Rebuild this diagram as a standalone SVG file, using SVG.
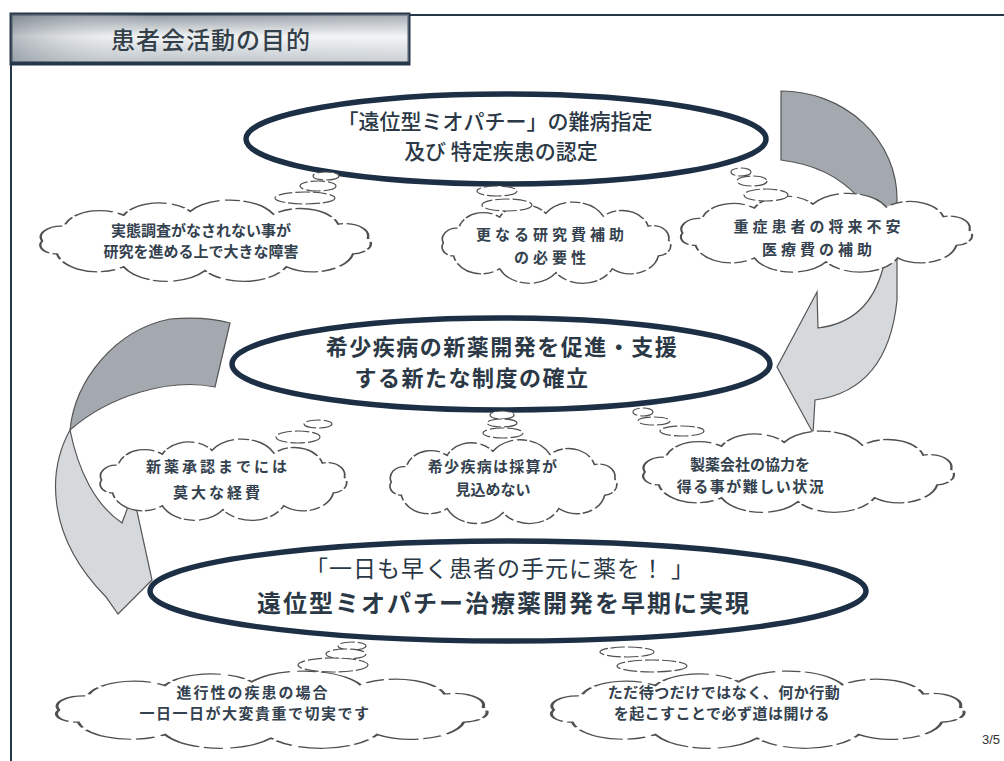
<svg xmlns="http://www.w3.org/2000/svg" xmlns:xlink="http://www.w3.org/1999/xlink" width="1004" height="761" viewBox="0 0 1004 761">
<defs>
<style>
.cl{fill:#fff;stroke:#505050;stroke-width:1.3;stroke-dasharray:22 3 8 2;vector-effect:non-scaling-stroke}
.bub{fill:#fff;stroke:#505050;stroke-width:1.2;stroke-dasharray:14 3}
.ell{fill:#fff;stroke:#1c2f45;stroke-width:5.5}
.ct{font-family:"Noto Sans CJK JP",sans-serif;font-size:15px;font-weight:bold;fill:#34414e;text-anchor:middle}
.et{font-family:"Noto Sans CJK JP",sans-serif;fill:#2b3846;text-anchor:middle}
.dark{fill:#a3a9ae;stroke:#555;stroke-width:1.2}
.light{fill:#d6d9dc;stroke:#555;stroke-width:1.2}
.frame{stroke:#26374a;stroke-width:2;fill:none}
</style>
<linearGradient id="tg" x1="0" y1="0" x2="0" y2="1">
<stop offset="0" stop-color="#8e979f"/>
<stop offset="0.45" stop-color="#f1f3f4"/>
<stop offset="1" stop-color="#b9c0c6"/>
</linearGradient>
<linearGradient id="th" x1="0" y1="0" x2="1" y2="0">
<stop offset="0" stop-color="#6c7680" stop-opacity="0.45"/>
<stop offset="0.35" stop-color="#ffffff" stop-opacity="0"/>
<stop offset="1" stop-color="#ffffff" stop-opacity="0.2"/>
</linearGradient>
<path id="cloud" d="M -88 0 A 11.1 11.1 0 0 1 -76 -15 A 19.6 19.6 0 0 1 -44 -26 A 21 21 0 0 1 -8 -30 A 26.2 26.2 0 0 1 37 -27 A 21.1 21.1 0 0 1 72 -17 A 12.4 12.4 0 0 1 88 -3 A 10.4 10.4 0 0 1 80 13 A 22.2 22.2 0 0 1 44 26 A 25.6 25.6 0 0 1 0 30 A 25.6 25.6 0 0 1 -44 26 A 22.2 22.2 0 0 1 -80 13 A 8.9 8.9 0 0 1 -88 0 Z"/>
</defs>
<rect width="1004" height="761" fill="#fff"/>

<g id="frame">
<line class="frame" x1="410" y1="15" x2="1004" y2="15"/>
<line class="frame" x1="11" y1="64" x2="11" y2="761"/>
</g>

<g id="title">
<rect x="11" y="14" width="398" height="50" fill="url(#tg)" stroke="#26374a" stroke-width="3"/>
<rect x="11" y="14" width="398" height="50" fill="url(#th)"/>
<line x1="11" y1="63" x2="409" y2="63" stroke="#26374a" stroke-width="3"/>
<text x="211" y="49" style="font-family:'Noto Sans CJK JP',sans-serif;font-size:24px;font-weight:500;letter-spacing:1px;fill:#333f49;text-anchor:middle">患者会活動の目的</text>
</g>

<g id="connectors">
<path class="dark" d="M 781 91 A 116 108 0 0 1 897 199 L 897 240 L 858 240 L 858 197 Q 830 166 781 160 Z"/>
<path class="light" d="M 883 240 L 897 240 L 897 300 Q 888 390 815 400 L 813 433 L 777 367 L 817 292 L 818 328 Q 869 322 883 268 Z"/>
<path class="dark" d="M 230 323 L 215 387 C 170 378 110 395 70 430 C 75 380 115 330 170 319 Q 205 316 230 323 Z"/>
<path class="light" d="M 70 430 C 48 470 45 535 106 597 L 118 614 L 152 580 L 133 493 L 122 523 C 95 505 78 470 70 430 Z"/>
</g>

<g id="goal1">
<ellipse class="ell" cx="506" cy="139" rx="260" ry="45"/>
<text class="et" x="495" y="129" style="font-size:21px;font-weight:500">「遠位型ミオパチー」の難病指定</text>
<text class="et" x="501" y="159" style="font-size:21px;font-weight:500">及び 特定疾患の認定</text>
</g>

<g id="goal2">
<ellipse class="ell" cx="501" cy="364" rx="269" ry="46"/>
<text class="et" x="502" y="355" style="font-size:22px;font-weight:bold;letter-spacing:1.5px">希少疾病の新薬開発を促進・支援</text>
<text class="et" x="472" y="386" style="font-size:22px;font-weight:bold;letter-spacing:1.5px">する新たな制度の確立</text>
</g>

<g id="goal3">
<ellipse class="ell" cx="508" cy="591" rx="358" ry="50"/>
<text class="et" x="500" y="577" style="font-size:23px;letter-spacing:1px">「一日も早く患者の手元に薬を！ 」</text>
<text class="et" x="504" y="612" style="font-size:24px;font-weight:bold;letter-spacing:2px">遠位型ミオパチー治療薬開発を早期に実現</text>
</g>

<g id="reason1a">
<ellipse class="bub" cx="326" cy="176" rx="13" ry="4"/>
<ellipse class="bub" cx="318" cy="186" rx="18" ry="5"/>
<use href="#cloud" class="cl" transform="translate(205,241) scale(1.85,0.99)"/>
<ellipse class="bub" cx="305" cy="198" rx="30" ry="6"/>
<text class="ct" x="201" y="236">実態調査がなされない事が</text>
<text class="ct" x="201" y="257">研究を進める上で大きな障害</text>
</g>

<g id="reason1b">
<ellipse class="bub" cx="497" cy="191" rx="20" ry="5"/>
<use href="#cloud" class="cl" transform="translate(556,243) scale(1.28,0.99)"/>
<ellipse class="bub" cx="507" cy="205" rx="25" ry="6"/>
<text class="ct" x="552" y="240" style="letter-spacing:4px">更なる研究費補助</text>
<text class="ct" x="552" y="263" style="letter-spacing:4px">の必要性</text>
</g>

<g id="reason1c">
<ellipse class="bub" cx="741" cy="172" rx="10" ry="4"/>
<ellipse class="bub" cx="752" cy="181" rx="15" ry="5"/>
<use href="#cloud" class="cl" transform="translate(826,233) scale(1.63,0.96)"/>
<ellipse class="bub" cx="766" cy="195" rx="22" ry="6"/>
<text class="ct" x="819" y="232" style="letter-spacing:4px">重症患者の将来不安</text>
<text class="ct" x="819" y="255" style="letter-spacing:4px">医療費の補助</text>
</g>

<g id="reason2a">
<ellipse class="bub" cx="318" cy="424" rx="14" ry="4"/>
<ellipse class="bub" cx="298" cy="437" rx="22" ry="6"/>
<use href="#cloud" class="cl" transform="translate(223,480) scale(1.38,0.99)"/>
<text class="ct" x="218" y="472" style="letter-spacing:3px">新薬承認までには</text>
<text class="ct" x="218" y="498" style="letter-spacing:3px">莫大な経費</text>
</g>

<g id="reason2b">
<ellipse class="bub" cx="502" cy="415" rx="12" ry="4"/>
<ellipse class="bub" cx="502" cy="423" rx="15" ry="4"/>
<ellipse class="bub" cx="503" cy="433" rx="20" ry="5"/>
<use href="#cloud" class="cl" transform="translate(503,482) scale(1.27,1.02)"/>
<text class="ct" x="493" y="472" style="letter-spacing:1.3px">希少疾病は採算が</text>
<text class="ct" x="493" y="495">見込めない</text>
</g>

<g id="reason2c">
<ellipse class="bub" cx="643" cy="412" rx="10" ry="4"/>
<ellipse class="bub" cx="654" cy="421" rx="16" ry="4"/>
<ellipse class="bub" cx="682" cy="431" rx="22" ry="5"/>
<use href="#cloud" class="cl" transform="translate(798,472) scale(1.74,0.99)"/>
<text class="ct" x="750" y="470">製薬会社の協力を</text>
<text class="ct" x="751" y="492" style="letter-spacing:1.5px">得る事が難しい状況</text>
</g>

<g id="note3a">
<ellipse class="bub" cx="352" cy="646" rx="14" ry="4"/>
<ellipse class="bub" cx="346" cy="654" rx="20" ry="5"/>
<use href="#cloud" class="cl" transform="translate(271,710) scale(2.41,0.94)"/>
<ellipse class="bub" cx="333" cy="665" rx="35" ry="7"/>
<text class="ct" x="253" y="698" style="letter-spacing:2px">進行性の疾患の場合</text>
<text class="ct" x="255" y="719" style="letter-spacing:1.5px">一日一日が大変貴重で切実です</text>
</g>

<g id="note3b">
<ellipse class="bub" cx="627" cy="652" rx="27" ry="5"/>
<use href="#cloud" class="cl" transform="translate(757,710) scale(2.31,0.94)"/>
<ellipse class="bub" cx="652" cy="666" rx="35" ry="6"/>
<text class="ct" x="724" y="698" style="letter-spacing:0.5px">ただ待つだけではなく、何か行動</text>
<text class="ct" x="722" y="719" style="letter-spacing:0.5px">を起こすことで必ず道は開ける</text>
</g>

<text x="1000" y="744" style="font-family:'Liberation Sans',sans-serif;font-size:13px;fill:#333;text-anchor:end">3/5</text>
</svg>
